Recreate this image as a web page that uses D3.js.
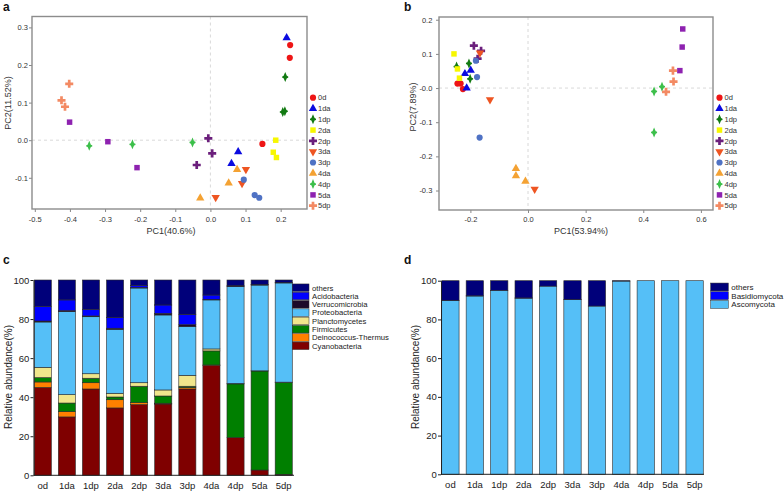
<!DOCTYPE html>
<html><head><meta charset="utf-8">
<script src="https://cdn.jsdelivr.net/npm/d3@7"></script>
<style>
body{margin:0;background:#fff;}
text{font-family:"Liberation Sans",Arial,sans-serif;}
</style></head>
<body><svg id="chart" width="784" height="491"></svg>
<script>
// ---------- DATA ----------
const groups = ["0d","1da","1dp","2da","2dp","3da","3dp","4da","4dp","5da","5dp"];
const groupColors = ["#ee1515","#0a0ae0","#127a12","#f7f700","#6b1f7c","#ee5522","#4f72c4","#f4a233","#3cbf4a","#8e22b0","#f38a63"];
const groupShapes = ["circle","triangle","diamond","square","cross","triangleDown","circle","triangle","diamond","square","cross"];

// Panel a (PCA, bacteria) — per group, three replicates
const pcaA_pc1 = [[0.227,0.226,0.148],[0.217,0.079,0.060],[0.213,0.206,0.212],[0.186,0.179,0.188],[-0.006,0.005,-0.039],[0.101,0.090,0.015],[0.095,0.126,0.139],[0.076,0.052,-0.029],[-0.345,-0.222,-0.051],[-0.401,-0.292,-0.209],[-0.402,-0.424,-0.414]];
const pcaA_pc2 = [[0.253,0.219,-0.010],[0.272,-0.031,-0.062],[0.168,0.075,0.077],[0.000,-0.032,-0.046],[0.005,-0.035,-0.066],[-0.078,-0.115,-0.152],[-0.105,-0.146,-0.153],[-0.078,-0.114,-0.154],[-0.015,-0.011,-0.006],[0.048,-0.004,-0.073],[0.150,0.106,0.089]];
const pcaA_xTicks = [-0.5,-0.4,-0.3,-0.2,-0.1,0.0,0.1,0.2];
const pcaA_xTickLabels = ["-0.5","-0.4","-0.3","-0.2","-0.1","0.0","0.1","0.2"];
const pcaA_yTicks = [-0.1,0.0,0.1,0.2,0.3];
const pcaA_yTickLabels = ["-0.1","0.0","0.1","0.2","0.3"];

// Panel b (PCA, fungi)
const pcaB_pc1 = [[-0.245,-0.234,-0.226],[-0.219,-0.199,-0.213],[-0.248,-0.205,-0.201],[-0.257,-0.245,-0.238],[-0.188,-0.163,-0.175],[-0.167,-0.132,0.023],[-0.181,-0.177,-0.168],[-0.042,-0.042,-0.009],[0.4375,0.4375,0.465],[0.537,0.535,0.527],[0.503,0.505,0.479]];
const pcaB_pc2 = [[0.013,0.013,-0.003],[0.042,0.052,0.000],[0.063,0.072,0.027],[0.100,0.056,0.029],[0.124,0.109,0.086],[0.103,-0.034,-0.296],[0.080,0.032,-0.145],[-0.236,-0.257,-0.273],[-0.010,-0.130,0.004],[0.173,0.120,0.051],[0.051,0.019,-0.011]];
const pcaB_xTicks = [-0.2,0.0,0.2,0.4,0.6];
const pcaB_xTickLabels = ["-0.2","0.0","0.2","0.4","0.6"];
const pcaB_yTicks = [-0.3,-0.2,-0.1,0.0,0.1,0.2];
const pcaB_yTickLabels = ["-0.3","-0.2","-0.1","-0.0","0.1","0.2"];

// Panel c (bacterial phyla, % relative abundance), stacked bottom -> top
const sampleLabels = ["od","1da","1dp","2da","2dp","3da","3dp","4da","4dp","5da","5dp"];
const bacteriaPhyla = ["Cyanobacteria","Deinococcus-Thermus","Firmicutes","Planctomycetes","Proteobacteria","Verrucomicrobia","Acidobacteria","others"];
const bacteriaColors = ["#7f0000","#ff8000","#007f00","#f0e68c","#55bff7","#1c0a2a","#0000ff","#00007a"];
const cyanobacteria   = [45.0,29.9,44.2,34.5,36.2,36.5,44.2,56.3,19.3,2.7,0.5];
const deinococcus     = [2.8,2.7,3.2,4.2,1.0,0.4,0.7,0.2,0.0,0.0,0.0];
const firmicutes      = [2.2,4.4,2.3,1.4,8.4,3.7,0.7,7.2,27.5,50.7,47.1];
const planctomycetes  = [5.3,4.3,2.3,1.9,1.8,3.1,5.6,1.0,0.2,0.1,0.1];
const proteobacteria  = [23.2,42.5,29.2,32.7,48.5,38.4,24.9,25.1,49.6,43.9,50.8];
const verrucomicrobia = [0.5,0.5,0.4,0.6,0.3,0.8,1.0,0.3,0.3,0.2,0.1];
const acidobacteria   = [7.5,5.5,3.4,5.4,0.9,4.3,5.2,2.2,0.2,0.1,0.1];
const bacteriaOthers  = [13.5,10.2,15.0,19.3,2.9,12.8,17.7,7.7,2.9,2.3,1.3];

// Panel d (fungal phyla)
const fungiPhyla = ["Ascomycota","Basidiomycota","others"];
const fungiColors = ["#55bff7","#0000ff","#00007a"];
const ascomycota    = [89.8,92.1,95.0,91.0,97.2,90.2,86.9,99.8,100,100,100];
const basidiomycota = [0.1,0.1,0.0,0.1,0.0,0.1,0.0,0.0,0.0,0.0,0.0];
const fungiOthers   = [10.1,7.8,5.0,8.9,2.8,9.7,13.1,0.2,0.0,0.0,0.0];
const abundanceTicks = [0,20,40,60,80,100];

// ---------- DRAW ----------
const svg = d3.select("#chart");
svg.append("rect").attr("width",784).attr("height",491).attr("fill","#fff");

function shapePath(shape){
  switch(shape){
    case "circle": return d3.symbol(d3.symbolCircle,30)();
    case "triangle": return d3.symbol(d3.symbolTriangle,30)();
    case "triangleDown": return d3.symbol(d3.symbolTriangle,30)();
    case "square": return d3.symbol(d3.symbolSquare,30)();
    case "cross": return d3.symbol(d3.symbolCross,36)();
    case "diamond": return "M0,-5L1.6,-1.2L3,-0.6L3,0.6L1.6,1.2L0,5L-1.6,1.2L-3,0.6L-3,-0.6L-1.6,-1.2Z";
  }
}
function drawMarker(g, shape, color, x, y){
  g.append("path").attr("d", shapePath(shape))
   .attr("transform", `translate(${x},${y})` + (shape==="triangleDown" ? " rotate(180)" : ""))
   .attr("fill", color);
}

function drawScatter(cfg){
  const g = svg.append("g");
  const x = d3.scaleLinear().domain(cfg.xDomain).range([cfg.left,cfg.right]);
  const y = d3.scaleLinear().domain(cfg.yDomain).range([cfg.bottom,cfg.top]);
  // dashed zero lines
  g.append("line").attr("x1",x(0)).attr("x2",x(0)).attr("y1",cfg.top).attr("y2",cfg.bottom)
    .attr("stroke","#cfcfcf").attr("stroke-dasharray","3,3").attr("stroke-width",0.8);
  g.append("line").attr("x1",cfg.left).attr("x2",cfg.right).attr("y1",y(0)).attr("y2",y(0))
    .attr("stroke","#cfcfcf").attr("stroke-dasharray","3,3").attr("stroke-width",0.8);
  // axes
  const xa = g.append("g").attr("transform",`translate(0,${cfg.bottom})`)
    .call(d3.axisBottom(x).tickValues(cfg.xTicks).tickFormat((d,i)=>cfg.xTickLabels[i]).tickSize(3).tickPadding(cfg.xPad).tickSizeOuter(0));
  const ya = g.append("g").attr("transform",`translate(${cfg.left},0)`)
    .call(d3.axisLeft(y).tickValues(cfg.yTicks).tickFormat((d,i)=>cfg.yTickLabels[i]).tickSize(3).tickPadding(cfg.yPad).tickSizeOuter(0));
  [xa,ya].forEach(a=>{
    a.select(".domain").remove();
    a.selectAll("line").attr("stroke","#888");
    a.selectAll("text").attr("font-size","7.5px").attr("fill","#333");
  });
  // frame
  g.append("rect").attr("x",cfg.left).attr("y",cfg.top).attr("width",cfg.right-cfg.left).attr("height",cfg.bottom-cfg.top)
    .attr("fill","none").attr("stroke","#8c8c8c").attr("stroke-width",1.4);
  // points
  groups.forEach((grp,i)=>{
    cfg.pc1[i].forEach((v,j)=>drawMarker(g, groupShapes[i], groupColors[i], x(v), y(cfg.pc2[i][j])));
  });
  // labels
  g.append("text").attr("x",cfg.xLabelX).attr("y",cfg.xLabelY).attr("text-anchor","middle")
    .attr("font-size","9px").attr("fill","#333").text(cfg.xLabel);
  g.append("text").attr("transform",`translate(${cfg.yLabelX},${cfg.yLabelY}) rotate(-90)`).attr("text-anchor","middle")
    .attr("font-size","9px").attr("fill","#333").text(cfg.yLabel);
  // legend
  groups.forEach((grp,i)=>{
    const ly = cfg.legendY + i*10.8;
    drawMarker(g, groupShapes[i], groupColors[i], cfg.legendX, ly);
    g.append("text").attr("x",cfg.legendX+5).attr("y",ly+2.7).attr("font-size","7.5px").attr("fill","#333").text(grp);
  });
}

drawScatter({left:32,right:307,top:16.5,bottom:209,xDomain:[-0.508,0.275],yDomain:[-0.183,0.329],
  xTicks:pcaA_xTicks,xTickLabels:pcaA_xTickLabels,yTicks:pcaA_yTicks,yTickLabels:pcaA_yTickLabels,
  xPad:4.2,yPad:1,pc1:pcaA_pc1,pc2:pcaA_pc2,xLabel:"PC1(40.6%)",xLabelX:171,xLabelY:234,
  yLabel:"PC2(11.52%)",yLabelX:10.5,yLabelY:103,legendX:313,legendY:97.7});

drawScatter({left:439,right:713,top:17,bottom:210,xDomain:[-0.309,0.642],yDomain:[-0.357,0.208],
  xTicks:pcaB_xTicks,xTickLabels:pcaB_xTickLabels,yTicks:pcaB_yTicks,yTickLabels:pcaB_yTickLabels,
  xPad:3.5,yPad:3.7,pc1:pcaB_pc1,pc2:pcaB_pc2,xLabel:"PC1(53.94%)",xLabelX:581,xLabelY:234,
  yLabel:"PC2(7.89%)",yLabelX:415.5,yLabelY:107,legendX:719.5,legendY:97.7});

function drawBars(cfg){
  const g = svg.append("g");
  const x = d3.scaleBand().domain(sampleLabels).range([cfg.left,cfg.right]).paddingInner(0.29).paddingOuter(0.03);
  const y = d3.scaleLinear().domain([0,100]).range([cfg.bottom,cfg.top]);
  const rows = sampleLabels.map((s,i)=>{const r={sample:s}; cfg.keys.forEach((k,j)=>r[k]=cfg.series[j][i]); return r;});
  const stacked = d3.stack().keys(cfg.keys)(rows);
  stacked.forEach((layer,j)=>{
    g.selectAll(null).data(layer).enter().append("rect")
      .attr("x",d=>x(d.data.sample)).attr("width",x.bandwidth())
      .attr("y",d=>y(d[1])).attr("height",d=>Math.max(0,y(d[0])-y(d[1])))
      .attr("fill",cfg.colors[j]).attr("stroke","#2a2a2a").attr("stroke-width",0.6);
  });
  const ya = g.append("g").attr("transform",`translate(${cfg.left},0)`)
    .call(d3.axisLeft(y).tickValues(abundanceTicks).tickSize(3).tickPadding(1.2).tickSizeOuter(0));
  ya.select(".domain").attr("stroke","#222");
  ya.selectAll("line").attr("stroke","#222");
  ya.selectAll("text").attr("font-size","9.5px").attr("fill","#222");
  const xa = g.append("g").attr("transform",`translate(0,${cfg.bottom})`)
    .call(d3.axisBottom(x).tickSize(0).tickPadding(6.5));
  xa.select(".domain").remove();
  xa.selectAll("text").attr("font-size","9.5px").attr("fill","#222");
  g.append("line").attr("x1",cfg.left).attr("x2",cfg.axisEnd).attr("y1",cfg.bottom).attr("y2",cfg.bottom).attr("stroke","#222");
  g.append("text").attr("transform",`translate(${cfg.yLabelX},${cfg.yLabelY}) rotate(-90)`).attr("text-anchor","middle")
    .attr("font-size","10px").attr("fill","#222").text("Relative abundance(%)");
  // legend, top to bottom = reverse stack order
  const n = cfg.keys.length;
  for(let k=0;k<n;k++){
    const j = n-1-k;
    const ly = cfg.legendY + k*cfg.legendStep;
    g.append("rect").attr("x",cfg.legendX).attr("y",ly-cfg.legendStep/2+0.4).attr("width",cfg.legendW).attr("height",cfg.legendStep-0.8)
      .attr("fill",cfg.colors[j]).attr("stroke","#2a2a2a").attr("stroke-width",0.5);
    g.append("text").attr("x",cfg.legendX+cfg.legendW+3).attr("y",ly+2.8).attr("font-size",cfg.legendFont).attr("fill","#222").text(cfg.keys[j]);
  }
}

drawBars({left:33.5,right:293,bottom:475.3,top:280,axisEnd:294,keys:bacteriaPhyla,colors:bacteriaColors,
  series:[cyanobacteria,deinococcus,firmicutes,planctomycetes,proteobacteria,verrucomicrobia,acidobacteria,bacteriaOthers],
  yLabelX:12,yLabelY:377,legendX:292.3,legendY:287.7,legendStep:8.3,legendW:16.7,legendFont:"7.7px"});

drawBars({left:441,right:704,bottom:474.3,top:280.7,axisEnd:704,keys:fungiPhyla,colors:fungiColors,
  series:[ascomycota,basidiomycota,fungiOthers],
  yLabelX:419,yLabelY:377,legendX:710.7,legendY:287,legendStep:8.7,legendW:17.6,legendFont:"8px"});

// panel letters
[["a",3,11],["b",404,11],["c",3,264],["d",404,264]].forEach(([t,x,y])=>{
  svg.append("text").attr("x",x).attr("y",y).attr("font-size","12px").attr("font-weight","bold").attr("fill","#111").text(t);
});
</script></body></html>
